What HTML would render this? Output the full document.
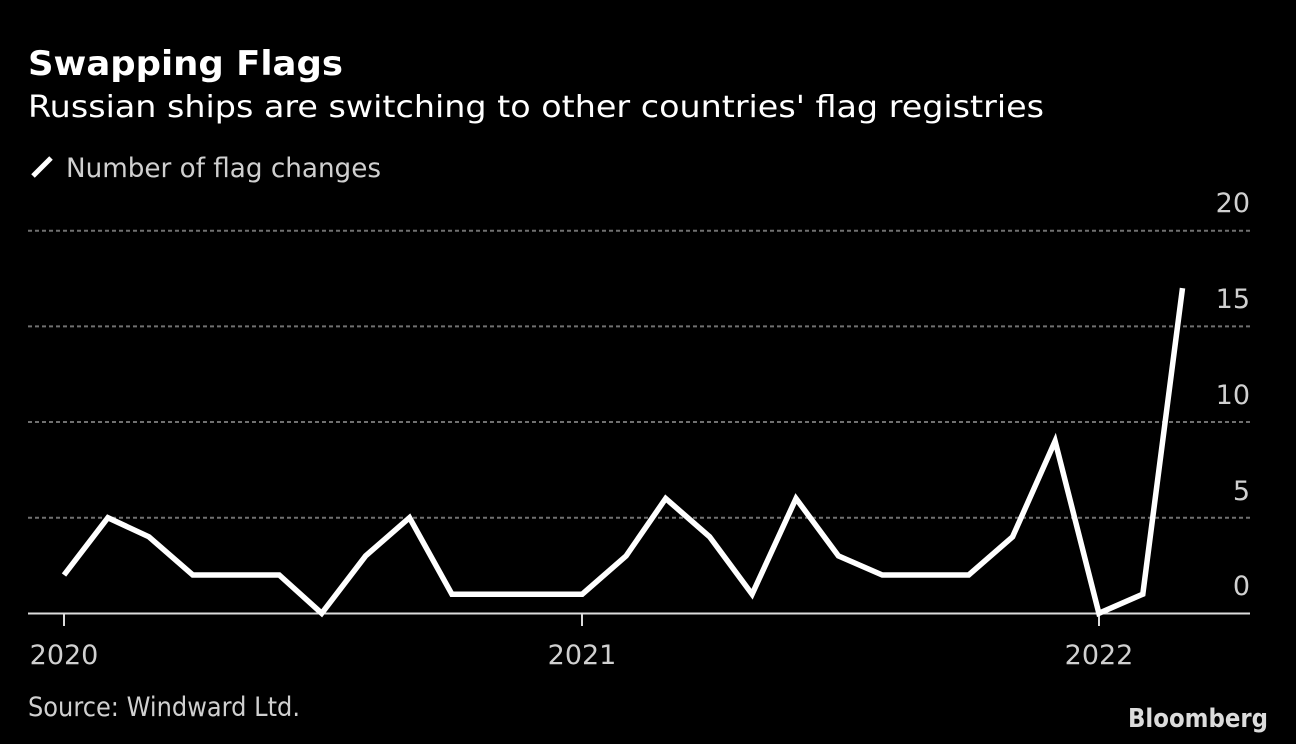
<!DOCTYPE html>
<html>
<head>
<meta charset="utf-8">
<style>
  html,body{margin:0;padding:0;background:#000;}
  body{width:1296px;height:744px;overflow:hidden;}
  svg{display:block;}
  text{font-family:"DejaVu Sans","Liberation Sans",sans-serif;}
</style>
</head>
<body>
<svg width="1296" height="744" viewBox="0 0 1296 744" xmlns="http://www.w3.org/2000/svg">
  <rect x="0" y="0" width="1296" height="744" fill="#000"/>

  <!-- Title -->
  <text x="28" y="75" font-size="34" font-weight="bold" fill="#fff" textLength="315" lengthAdjust="spacingAndGlyphs">Swapping Flags</text>
  <!-- Subtitle -->
  <text x="28" y="117" font-size="30" fill="#fff" textLength="1016" lengthAdjust="spacingAndGlyphs">Russian ships are switching to other countries' flag registries</text>

  <!-- Legend -->
  <line x1="33" y1="176" x2="51" y2="158" stroke="#fff" stroke-width="5" stroke-linecap="butt"/>
  <text x="66" y="177" font-size="27" fill="#d0d0d0" textLength="315" lengthAdjust="spacingAndGlyphs">Number of flag changes</text>

  <!-- Gridlines -->
  <g stroke="#707070" stroke-width="2" stroke-dasharray="4,3">
    <line x1="28" y1="230.7" x2="1250" y2="230.7"/>
    <line x1="28" y1="326.4" x2="1250" y2="326.4"/>
    <line x1="28" y1="422.0" x2="1250" y2="422.0"/>
    <line x1="28" y1="517.7" x2="1250" y2="517.7"/>
  </g>

  <!-- Y labels -->
  <g font-size="27" fill="#d0d0d0" text-anchor="end">
    <text x="1250" y="212">20</text>
    <text x="1250" y="308">15</text>
    <text x="1250" y="404">10</text>
    <text x="1250" y="500">5</text>
    <text x="1250" y="595">0</text>
  </g>

  <!-- Axis -->
  <line x1="28" y1="613.5" x2="1250" y2="613.5" stroke="#dcdcdc" stroke-width="2"/>
  <g stroke="#dcdcdc" stroke-width="2">
    <line x1="64" y1="614" x2="64" y2="626"/>
    <line x1="582" y1="614" x2="582" y2="626"/>
    <line x1="1099" y1="614" x2="1099" y2="626"/>
  </g>

  <!-- X labels -->
  <g font-size="27" fill="#d0d0d0" text-anchor="middle">
    <text x="64" y="664">2020</text>
    <text x="582" y="664">2021</text>
    <text x="1099" y="664">2022</text>
  </g>

  <!-- Series -->
  <polyline fill="none" stroke="#fff" stroke-width="5.5" stroke-linejoin="miter" stroke-linecap="butt"
    points="64,575.0 107.9,517.7 148.9,536.8 192.8,575.0 235.3,575.0 279.2,575.0 321.7,613.3 365.6,555.9 409.5,517.7 451.9,594.2 495.8,594.2 538.3,594.2 582.2,594.2 626.1,555.9 665.7,498.5 709.6,536.8 752.1,594.2 796.0,498.5 838.4,555.9 882.3,575.0 926.2,575.0 968.7,575.0 1012.6,536.8 1055.1,441.1 1098.9,613.3 1142.8,594.2 1182.5,288.1"/>

  <!-- Source -->
  <text x="28" y="716" font-size="27" fill="#d0d0d0" textLength="272" lengthAdjust="spacingAndGlyphs">Source: Windward Ltd.</text>

  <!-- Bloomberg -->
  <text x="1128" y="727" font-size="26" font-weight="bold" fill="#dcdcdc" font-family="Liberation Sans, sans-serif" textLength="140" lengthAdjust="spacingAndGlyphs">Bloomberg</text>
</svg>
</body>
</html>
